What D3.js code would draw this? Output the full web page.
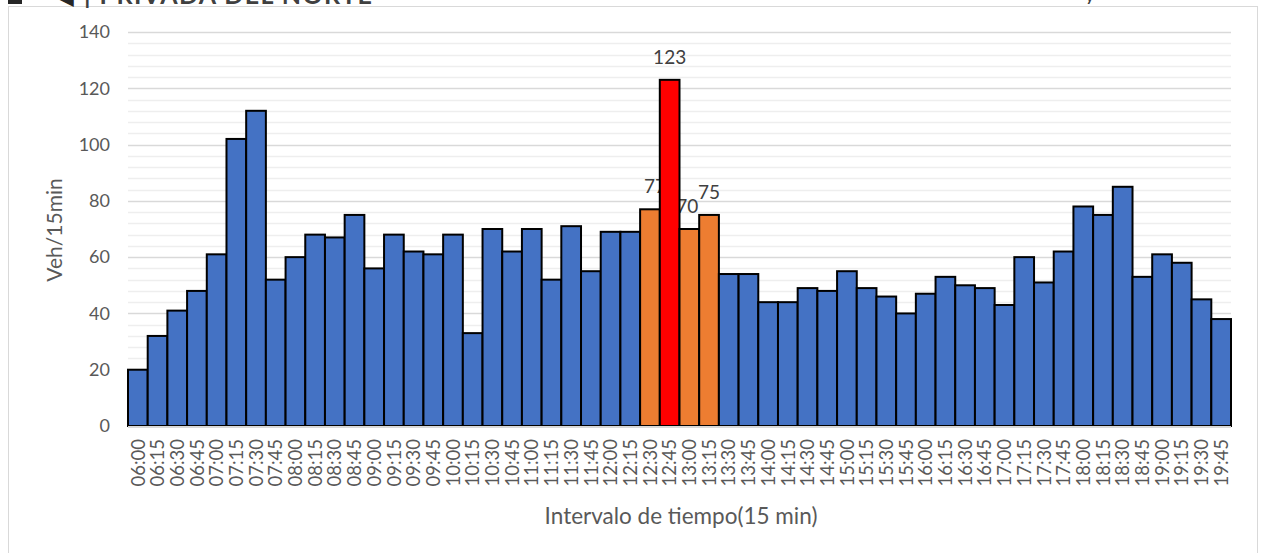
<!DOCTYPE html>
<html><head><meta charset="utf-8">
<script src="https://cdn.jsdelivr.net/npm/d3@7/dist/d3.min.js"></script>
<style>body{margin:0;background:#fff;}svg{display:block;font-family:Lato,"Open Sans",sans-serif;}</style>
</head><body>
<svg id="c" width="1263" height="553"></svg>
<script>
const categories = ["06:00","06:15","06:30","06:45","07:00","07:15","07:30","07:45","08:00","08:15","08:30","08:45","09:00","09:15","09:30","09:45","10:00","10:15","10:30","10:45","11:00","11:15","11:30","11:45","12:00","12:15","12:30","12:45","13:00","13:15","13:30","13:45","14:00","14:15","14:30","14:45","15:00","15:15","15:30","15:45","16:00","16:15","16:30","16:45","17:00","17:15","17:30","17:45","18:00","18:15","18:30","18:45","19:00","19:15","19:30","19:45"];
const values = [20,32,41,48,61,102,112,52,60,68,67,75,56,68,62,61,68,33,70,62,70,52,71,55,69,69,77,123,70,75,54,54,44,44,49,48,55,49,46,40,47,53,50,49,43,60,51,62,78,75,85,53,61,58,45,38];
const peakHour = ["12:30","12:45","13:00","13:15"];
const peakMax = "12:45";
const yTicks = [0,20,40,60,80,100,120,140];
const minorTicks = d3.range(0,141,4);
const title = "PRIVADA DEL NORTE";
const yTitle = "Veh/15min";
const xTitle = "Intervalo de tiempo(15 min)";

const svg = d3.select("#c");
const m = {l:128, r:1231, t:32, b:426};
const x = d3.scaleBand().domain(categories).range([m.l, m.r]).padding(0);
const y = d3.scaleLinear().domain([0,140]).range([m.b, m.t]);

// frame
svg.append("rect").attr("x",8.5).attr("y",6.5).attr("width",1249).attr("height",560)
  .attr("fill","#fff").attr("stroke","#d9d9d9").attr("stroke-width",1);
// cut-off title (cropped at top in the reference)
svg.append("rect").attr("x",8).attr("y",-8).attr("width",14).attr("height",12).attr("fill","#262626");
svg.append("text").attr("x",58).attr("y",4).attr("font-size",20).attr("font-weight","bold").attr("fill","#262626").text("◀");
svg.append("text").attr("x",84).attr("y",4).attr("font-size",25).attr("font-weight","bold").attr("fill","#404040")
  .attr("textLength",288).text("| " + title);
svg.append("text").attr("x",1086).attr("y",2).attr("font-size",14).attr("font-weight","bold").attr("fill","#404040").text("y");

// grid
svg.append("g").selectAll("line").data(minorTicks.filter(d=>d%20!==0)).join("line")
  .attr("x1",m.l).attr("x2",m.r).attr("y1",d=>Math.round(y(d))+0.5).attr("y2",d=>Math.round(y(d))+0.5)
  .attr("stroke","#eeeeee").attr("stroke-width",1.5);
svg.append("g").selectAll("line").data(yTicks).join("line")
  .attr("x1",m.l).attr("x2",m.r).attr("y1",d=>Math.round(y(d))+0.5).attr("y2",d=>Math.round(y(d))+0.5)
  .attr("stroke","#d9d9d9").attr("stroke-width",1.5);

// y axis
const ya = svg.append("g").attr("transform",`translate(${m.l-18},0)`)
  .call(d3.axisLeft(y).tickValues(yTicks).tickSize(0).tickPadding(0));
ya.select(".domain").remove();
ya.selectAll("text").attr("font-size",18).attr("fill","#595959").attr("font-family","Lato,sans-serif");

// data labels (drawn beneath bars, as in the reference)
const pts = categories.map((c,i)=>({c,v:values[i]}));
svg.append("g").selectAll("text").data(pts.filter(d=>peakHour.includes(d.c))).join("text")
  .attr("x",d=>x(d.c)+x.bandwidth()/2 + (d.c==="12:30"?5:(d.c==="13:00"?-2:0)))
  .attr("y",d=>y(d.v)-16)
  .attr("text-anchor","middle").attr("font-size",19).attr("fill","#404040").attr("font-family","Lato,sans-serif").text(d=>d.v);

// bars
svg.append("g").selectAll("rect").data(pts).join("rect")
  .attr("x",d=>x(d.c)).attr("width",x.bandwidth()).attr("y",d=>y(d.v)).attr("height",d=>y(0)-y(d.v))
  .attr("fill",d=>d.c===peakMax?"#ff0000":(peakHour.includes(d.c)?"#ed7d31":"#4472c4"))
  .attr("stroke","#000").attr("stroke-width",2);

// x axis line
svg.append("line").attr("x1",m.l).attr("x2",m.r).attr("y1",m.b+1).attr("y2",m.b+1).attr("stroke","#d9d9d9").attr("stroke-width",2);

// x labels
const xa = svg.append("g").attr("transform",`translate(0,${m.b+13})`)
  .call(d3.axisBottom(x).tickSize(0).tickPadding(0));
xa.select(".domain").remove();
xa.selectAll(".tick text").attr("font-size",18.5).attr("fill","#595959").attr("font-family","Lato,sans-serif")
  .attr("x",0).attr("y",0).attr("dy","0.36em")
  .attr("transform","rotate(-90)").attr("text-anchor","end");

// titles
svg.append("text").attr("transform",`translate(62,${230}) rotate(-90)`).attr("text-anchor","middle")
  .attr("font-size",21).attr("fill","#595959").text(yTitle);
svg.append("text").attr("x",681).attr("y",524).attr("text-anchor","middle")
  .attr("font-size",22.5).attr("fill","#595959").text(xTitle);
</script>
</body></html>
